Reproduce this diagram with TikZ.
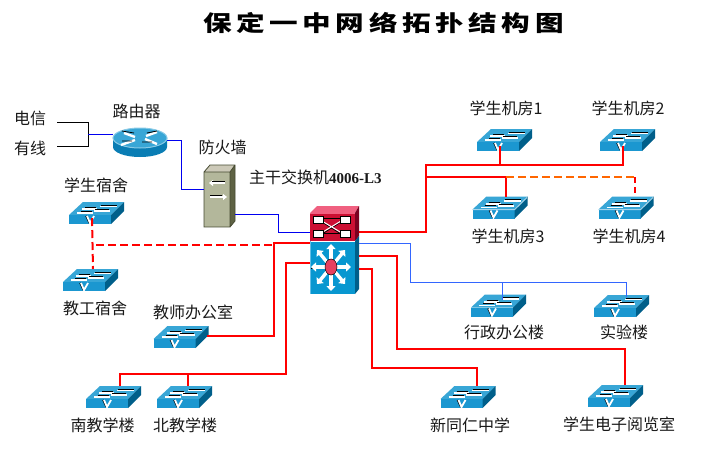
\documentclass[tikz,border=0pt]{standalone}
\usepackage{fontspec}
\usetikzlibrary{arrows.meta,calc}
\setmainfont{Liberation Serif}
\newfontfamily\cjk{Noto Sans CJK SC}
\newfontfamily\cjktitle[LetterSpace=16]{Noto Sans CJK SC}
\definecolor{swfront}{HTML}{1B97D0}
\definecolor{swtop}{HTML}{38A6D6}
\definecolor{swside}{HTML}{005F8A}
\definecolor{lineblue}{HTML}{0000F0}
\definecolor{thinblue}{HTML}{3366FF}
\definecolor{orangeline}{HTML}{FF6600}
\definecolor{fwtop}{HTML}{CCC9B8}
\definecolor{fwside}{HTML}{5E6244}
\definecolor{fwfront}{HTML}{B3B79B}
\definecolor{fwedge}{HTML}{464A32}
\definecolor{crimfront}{HTML}{CC0F33}
\definecolor{crimtop}{HTML}{F06080}
\definecolor{crimside}{HTML}{7A0020}
\definecolor{corefront}{HTML}{0897D0}
\definecolor{corepale}{HTML}{64BEE6}
\definecolor{corepink}{HTML}{E8405F}
\definecolor{routerside}{HTML}{0A7DB4}
\tikzset{
  swbox/.style={minimum width=55pt,minimum height=22pt,inner sep=0pt,outer sep=0pt},
  lab/.style={font=\cjk\fontsize{16}{17}\selectfont,inner sep=0pt,text=black!90},
  redl/.style={draw=red,line width=2pt},
  bluel/.style={draw=lineblue,line width=1pt},
  thinl/.style={draw=thinblue,line width=1pt},
  blackl/.style={draw=black,line width=1pt},
  reddash/.style={draw=red,line width=2pt,dash pattern=on 8pt off 4pt},
  orangedash/.style={draw=orangeline,line width=2pt,dash pattern=on 8pt off 4pt},
  warrow/.style={draw=white,line width=1.7pt},
  blk/.style={draw=black,line width=0.8pt},
  bigarrow/.style={draw=white,line width=3.4pt,-{Triangle[length=5pt,width=9pt]}},
}
\newcommand{\swicon}[4]{% name, left, top, extra (stripe)
  \node[swbox] (#1) at (#2+27.5,#3+11) {};
  \begin{scope}[shift={(#2,#3)}]
    \fill[swtop] (14,0) -- (55,0) -- (42,13) -- (0,13) -- cycle;
    \fill[swfront] (0,13) rectangle (42,22);
    \fill[swside] (42,13) -- (55,0) -- (55,9) -- (42,22) -- cycle;
    \draw[warrow] (13,7.2) -- (28,7.2);
    \draw[warrow] (31,4.6) -- (48,4.6);
    \draw[warrow] (8,11) -- (24,11);
    \draw[warrow] (25,9.3) -- (41,9.3);
    \draw[blk] (16,5.6) -- (27,5.6);
    \draw[blk] (32,3) -- (48,3);
    \draw[blk] (12,9.2) -- (23,9.2);
    \draw[blk] (26,7.6) -- (40,7.6);
    #4
    \draw[black,line width=1.4pt] (17,14) -- (20.3,21);
    \draw[white,line width=1.8pt] (18,14) -- (21,21) -- (25,14);
  \end{scope}
}
\newcommand{\stripe}{\draw[white!60!swfront,line width=1pt] (0,13.2) -- (42,13.2) -- (54.5,1);}
\begin{document}
\begin{tikzpicture}[x=1pt,y=-1pt]
\useasboundingbox (0,0) rectangle (704,459);
\fill[white] (0,0) rectangle (704,459);

% title
\node[font=\cjktitle\bfseries\fontsize{22}{24}\selectfont,inner sep=0pt,xscale=1.3] (title) at (383.5,23) {保定一中网络拓扑结构图};

% router
\node[minimum width=54pt,minimum height=29pt,inner sep=0pt] (router) at (140,142.5) {};
\fill[routerside] (113,138) -- (113,147) arc[start angle=180,end angle=360,x radius=27pt,y radius=10pt] -- (167,138) -- cycle;
\fill[swtop,draw=white!40!swtop,line width=1pt] (140,138) ellipse [x radius=27,y radius=10];
\draw[warrow,line width=2.4pt] (124,133) -- (135,137) (145,139) -- (157,144);
\draw[warrow,line width=2.4pt] (121,145) -- (135,140) (146,136) -- (157,132);
\draw[blk] (122,131) -- (134,133) (147,133) -- (157,131) (122,141) -- (132,141) (142,142) -- (152,142);

% firewall
\node[minimum width=31pt,minimum height=62pt,inner sep=0pt] (fw) at (219.5,196) {};
\fill[fwtop] (204,172) -- (210,165) -- (235,165) -- (230,172) -- cycle;
\fill[fwside] (230,172) -- (235,165) -- (235,221) -- (230,227) -- cycle;
\fill[fwfront] (204,172) rectangle (230,227);
\draw[fwedge,line width=0.8pt] (204,172) rectangle (230,227) (204,172) -- (210,165) -- (235,165) -- (235,221) -- (230,227) (230,172) -- (235,165);
\draw[white,line width=1.8pt,-{Triangle[length=4pt,width=6pt]}] (225,183) -- (209,183);
\draw[white,line width=1.8pt,-{Triangle[length=4pt,width=6pt]}] (210,197) -- (227,197);
\draw[black,line width=0.6pt] (212,181.6) -- (225,181.6) (210,195.6) -- (222,195.6);

% core switch
\node[minimum width=49pt,minimum height=35pt,inner sep=0pt] (coreA) at (334.5,223.5) {};
\node[minimum width=49pt,minimum height=53pt,inner sep=0pt] (coreB) at (334.5,267.5) {};
\fill[crimtop] (310,213) -- (317,206) -- (359,206) -- (355,213) -- cycle;
\fill[crimside] (355,213) -- (359,206) -- (359,236) -- (355,241) -- cycle;
\fill[crimfront] (310,213) rectangle (355,241);
\fill[swside] (355,241) -- (359,236) -- (359,289) -- (355,294) -- cycle;
\fill[corefront] (310,241) rectangle (355,294);
\draw[white,line width=0.7pt] (310,241) -- (355,241);
\draw[crimtop,line width=0.8pt] (310,213) -- (355,213);
\draw[corepale,line width=0.8pt] (310,241) -- (310,294);
% red module symbol
\draw[black,line width=1pt] (322,218) -- (341,218) (322,233) -- (341,233);
\draw[black,line width=0.8pt] (322,222) -- (341,234) (322,234) -- (341,222);
\draw[white,line width=1pt] (322,221) -- (341,232.5) (322,232.5) -- (341,221);
\foreach \rx/\ry in {313/216,340/216,313/230,340/230}
  \draw[fill=white,draw=black,line width=0.8pt] (\rx,\ry) rectangle +(10.5,7);
% blue module symbol
\draw[black,line width=1pt] (311,268.5) -- (325,268.5);
\foreach \ex/\ey in {331/244,331/291,311/267,351/267,317/250,345/250,317/284,345/284}{
  \draw[bigarrow] (331,267) -- (\ex,\ey);
}
\fill[corepink,draw=black,line width=0.5pt] (331,267) ellipse [x radius=6,y radius=8];

% switches
\swicon{lab1}{477}{129}{}
\swicon{lab2}{600}{129}{}
\swicon{lab3}{472.5}{196.5}{\stripe}
\swicon{lab4}{598.5}{196.5}{\stripe}
\swicon{dorm}{69}{202}{}
\swicon{staff}{63}{269}{}
\swicon{office}{153.5}{326}{}
\swicon{south}{86}{386}{}
\swicon{north}{157}{386}{}
\swicon{admin}{471}{294.5}{}
\swicon{exper}{594}{295}{}
\swicon{school}{440.5}{386}{}
\swicon{reading}{588}{385}{}

% labels
\node[lab] (l1) at (30,118) {电信};
\node[lab] (l2) at (30,148) {有线};
\node[lab] (l3) at (136.5,111) {路由器};
\node[lab] (l4) at (222.5,147) {防火墙};
\node[lab,anchor=west] (l5) at (249,177) {主干交换机\fontsize{15}{16}\selectfont\rmfamily\bfseries 4006-L3};
\node[lab] (l6) at (96,185.5) {学生宿舍};
\node[lab] (l7) at (95,308.5) {教工宿舍};
\node[lab] (l8) at (193,312) {教师办公室};
\node[lab] (l9) at (102.5,425) {南教学楼};
\node[lab] (l10) at (185,425) {北教学楼};
\node[lab] (l11) at (470,425) {新同仁中学};
\node[lab] (l12) at (619,424.5) {学生电子阅览室};
\node[lab] (l13) at (504,332) {行政办公楼};
\node[lab] (l14) at (624,332) {实验楼};
\node[lab] (l15) at (506,108) {学生机房1};
\node[lab] (l16) at (628,108) {学生机房2};
\node[lab] (l17) at (508,236) {学生机房3};
\node[lab] (l18) at (629,236) {学生机房4};

% connectors
\coordinate (inA) at (57,122);
\coordinate (inB) at (57,146);
\coordinate (inJ) at (88,134);
\draw[blackl] (inA) -- (88,122) -- (88,146) -- (inB);
\draw[bluel] (inJ) -- (router.west |- inJ);
\coordinate (rOut) at (167,140);
\coordinate (fwIn) at (204,189);
\draw[bluel] (rOut) -| (181,189) -- (fwIn);
\coordinate (fwOut) at (235,214);
\draw[bluel] (fwOut) -- (278,214) -- (278,232) -- ([yshift=-8.5pt]coreA.west);

\coordinate (busA) at (426,165);
\coordinate (busB) at (426,177);
\coordinate (pin1) at (500,146);
\coordinate (pin2) at (623,146);
\coordinate (j1) at (500,165);
\coordinate (pin3) at (506,197);
\coordinate (j3) at (506,177);
\coordinate (j4) at (635,177);
\coordinate (pin4) at (635,196);
\draw[redl] ([yshift=-8.5pt]coreA.east) -| (busA) -| (pin2);
\draw[redl] (j1) -- (pin1);
\draw[redl] (busB) -- (j3) -- (pin3);
\draw[orangedash] (j3) -- (j4);
\draw[reddash,dash pattern=on 6pt off 4pt] (j4) -- (pin4);

\coordinate (pinA) at (502,300);
\coordinate (pinE) at (626,297);
\draw[thinl] ([yshift=24.5pt]coreB.east) -- (410,243) -- (410,282) -| (pinE);
\draw[thinl] (502,282) -- (pinA);

\coordinate (pinR) at (625,385);
\coordinate (pinS) at (477,386);
\draw[redl] ([yshift=11.5pt]coreB.east) -- (397,256) -- (397,349) -| (pinR);
\draw[redl] ([yshift=-1.5pt]coreB.east) -- (372,269) -- (372,368) -| (pinS);

\coordinate (pinO) at (207,336);
\draw[redl] ([yshift=24.5pt]coreB.west) -| (274,336) -- (pinO);
\coordinate (pinSo) at (120,386);
\coordinate (pinN) at (188,386);
\draw[redl] ([yshift=4.5pt]coreB.west) -| (286,374) -| (pinSo);
\draw[redl] (188,374) -- (pinN);

\draw[reddash] ([xshift=-4.5pt,yshift=6pt]dorm.south) -- ([xshift=2.5pt]staff.north);
\draw[reddash] (96,245) -- (272,245);
\end{tikzpicture}
\end{document}
